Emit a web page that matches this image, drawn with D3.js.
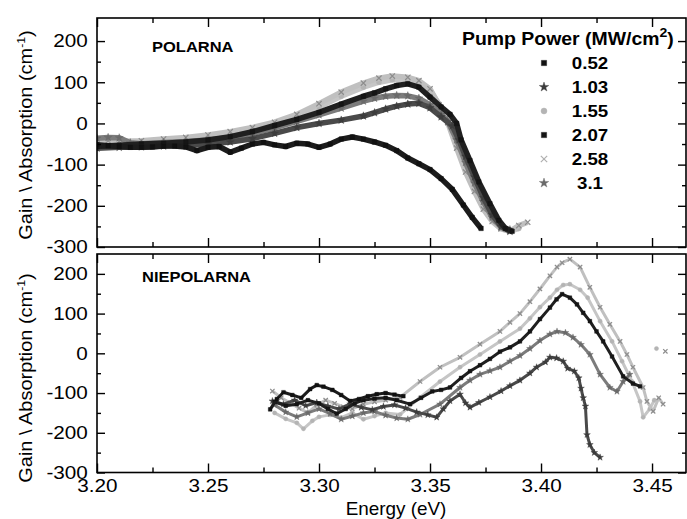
<!DOCTYPE html>
<html>
<head>
<meta charset="utf-8">
<script src="https://cdn.jsdelivr.net/npm/d3@7"></script>
<style>
  body { margin: 0; background: #fff; }
  text { font-family: "Liberation Sans", Arial, sans-serif; fill: #000; }
</style>
</head>
<body>
<svg id="chart" width="687" height="519"></svg>
<script>

// legend entries (pump power, MW/cm2)
let powers = ["0.52", "1.03", "1.55", "2.07", "2.58", "3.1"];

let xTicks = [3.20, 3.25, 3.30, 3.35, 3.40, 3.45];
let xMinorTicks = [3.225, 3.275, 3.325, 3.375, 3.425];
let yTicks = [-300, -200, -100, 0, 100, 200];
let yMinorTicks = [-250, -150, -50, 50, 150];

// POLARNA panel, [energy eV, gain cm-1]
let pol052 = [[3.200,-52],[3.205,-54],[3.210,-56],[3.215,-58],[3.220,-58],[3.225,-57],[3.230,-55],[3.235,-55],[3.240,-57],[3.245,-66],[3.250,-58],[3.255,-56],[3.260,-70],[3.265,-60],[3.270,-50],[3.275,-46],[3.280,-52],[3.285,-56],[3.290,-48],[3.295,-50],[3.300,-58],[3.305,-50],[3.310,-38],[3.315,-33],[3.320,-38],[3.325,-45],[3.330,-53],[3.335,-66],[3.340,-84],[3.345,-98],[3.350,-112],[3.355,-134],[3.360,-160],[3.365,-198],[3.369,-228],[3.373,-255]];
let pol103 = [[3.200,-60],[3.210,-58],[3.220,-57],[3.230,-55],[3.240,-53],[3.250,-50],[3.260,-45],[3.270,-37],[3.280,-24],[3.290,-10],[3.300,0],[3.310,8],[3.320,18],[3.325,26],[3.330,35],[3.335,42],[3.340,47],[3.345,49],[3.350,38],[3.355,16],[3.360,-6],[3.363,-40],[3.366,-80],[3.370,-130],[3.374,-180],[3.378,-222],[3.382,-250],[3.386,-262]];
let pol155 = [[3.200,-48],[3.210,-47],[3.220,-45],[3.230,-42],[3.240,-38],[3.250,-32],[3.260,-25],[3.270,-15],[3.280,-3],[3.290,15],[3.300,40],[3.310,66],[3.320,88],[3.327,100],[3.333,106],[3.340,106],[3.345,98],[3.350,80],[3.354,48],[3.358,8],[3.362,-50],[3.366,-108],[3.370,-158],[3.374,-202],[3.378,-234],[3.382,-254],[3.386,-262],[3.390,-255]];
let pol207 = [[3.200,-56],[3.210,-53],[3.220,-50],[3.230,-48],[3.240,-45],[3.250,-40],[3.260,-32],[3.270,-20],[3.280,-5],[3.290,10],[3.300,27],[3.310,47],[3.320,66],[3.325,74],[3.330,84],[3.335,92],[3.340,96],[3.345,88],[3.350,64],[3.355,40],[3.359,22],[3.362,0],[3.364,-40],[3.368,-90],[3.372,-142],[3.377,-195],[3.381,-235],[3.384,-255],[3.387,-262]];
let pol258 = [[3.200,-45],[3.205,-42],[3.210,-44],[3.220,-42],[3.230,-38],[3.240,-34],[3.250,-28],[3.260,-20],[3.270,-10],[3.280,3],[3.290,22],[3.300,48],[3.310,76],[3.320,98],[3.327,110],[3.333,115],[3.340,112],[3.345,104],[3.350,84],[3.354,45],[3.358,2],[3.362,-60],[3.366,-118],[3.370,-165],[3.374,-208],[3.378,-238],[3.382,-256],[3.386,-262],[3.390,-248],[3.394,-240]];
let pol310 = [[3.200,-36],[3.205,-34],[3.210,-35],[3.215,-47],[3.220,-49],[3.230,-46],[3.240,-44],[3.250,-40],[3.260,-34],[3.270,-24],[3.280,-11],[3.290,5],[3.300,21],[3.310,37],[3.320,54],[3.325,61],[3.330,66],[3.335,68],[3.340,67],[3.345,61],[3.350,45],[3.355,22],[3.358,5],[3.362,-40],[3.366,-95],[3.370,-145],[3.374,-190],[3.378,-228],[3.382,-252],[3.386,-258]];

// NIEPOLARNA panel, null = gap in the measured points
let niepol052 = [[3.278,-141],[3.281,-115],[3.284,-98],[3.288,-105],[3.292,-112],[3.296,-90],[3.299,-80],[3.302,-84],[3.306,-92],[3.310,-105],[3.314,-120],[3.318,-115],[3.322,-108],[3.326,-103],[3.330,-100],[3.334,-104],[3.338,-108]];
let niepol103 = [[3.279,-120],[3.284,-128],[3.289,-118],[3.294,-132],[3.299,-124],[3.304,-133],[3.309,-140],[3.314,-128],[3.319,-136],[3.324,-142],[3.329,-134],[3.334,-130],[3.339,-138],[3.344,-148],[3.349,-155],[3.353,-161],[3.356,-140],[3.359,-120],[3.3635,-103],[3.366,-125],[3.368,-136],[3.372,-124],[3.377,-110],[3.382,-95],[3.386,-82],[3.3905,-68],[3.395,-50],[3.398,-35],[3.402,-22],[3.404,-10],[3.407,-12],[3.410,-20],[3.412,-38],[3.415,-45],[3.417,-62],[3.418,-88],[3.419,-112],[3.420,-133],[3.4207,-205],[3.422,-230],[3.424,-250],[3.4266,-262]];
let niepol155 = [[3.280,-150],[3.285,-165],[3.290,-175],[3.293,-190],[3.297,-170],[3.300,-160],[3.305,-155],[3.310,-162],[3.315,-150],[3.320,-166],[3.325,-158],[3.330,-150],[3.3365,-154],[3.3455,-111],[3.3545,-71],[3.3635,-35],[3.3725,-3],[3.3815,30],[3.3905,62],[3.395,88],[3.3995,116],[3.404,140],[3.4072,160],[3.410,172],[3.413,174],[3.4176,160],[3.421,140],[3.4266,81],[3.432,30],[3.4365,-20],[3.441,-71],[3.4446,-121],[3.446,-161],[3.449,-140],[3.451,-118],[3.4515,null],[3.452,12]];
let niepol207 = [[3.280,-122],[3.285,-132],[3.290,-128],[3.295,-118],[3.300,-126],[3.304,-140],[3.308,-152],[3.312,-140],[3.316,-126],[3.320,-118],[3.325,-114],[3.330,-112],[3.335,-118],[3.341,-128],[3.346,-112],[3.351,-96],[3.355,-92],[3.359,-86],[3.364,-62],[3.368,-45],[3.3725,-30],[3.377,-14],[3.3815,4],[3.386,15],[3.3905,30],[3.395,55],[3.3995,86],[3.404,115],[3.407,136],[3.4095,149],[3.413,140],[3.4162,123],[3.419,102],[3.422,81],[3.425,55],[3.428,30],[3.432,-8],[3.437,-58],[3.4414,-76],[3.4446,-83]];
let niepol258 = [[3.279,-95],[3.283,-112],[3.287,-125],[3.291,-138],[3.295,-150],[3.299,-130],[3.303,-118],[3.307,-126],[3.311,-135],[3.315,-140],[3.320,-128],[3.325,-122],[3.330,-118],[3.3365,-111],[3.3455,-71],[3.3545,-35],[3.3635,-10],[3.3725,23],[3.3815,55],[3.386,78],[3.3905,100],[3.395,130],[3.3995,162],[3.404,195],[3.4072,217],[3.4095,228],[3.413,237],[3.4176,217],[3.422,166],[3.4266,116],[3.431,73],[3.4356,30],[3.4387,-3],[3.4414,-35],[3.446,-86],[3.4477,-121],[3.4505,-146],[3.453,-112],[3.455,-128],[3.4555,null],[3.456,5]];
let niepol310 = [[3.280,-130],[3.285,-148],[3.290,-160],[3.295,-150],[3.300,-140],[3.305,-152],[3.310,-166],[3.315,-158],[3.320,-150],[3.325,-146],[3.330,-156],[3.335,-163],[3.340,-166],[3.3455,-154],[3.3545,-128],[3.3635,-86],[3.368,-68],[3.3725,-53],[3.377,-44],[3.3815,-35],[3.386,-20],[3.3905,-6],[3.395,12],[3.3995,32],[3.404,48],[3.4072,55],[3.411,52],[3.4144,40],[3.418,22],[3.422,-3],[3.4266,-53],[3.431,-86],[3.4342,-96],[3.437,-71],[3.440,-53]];

// look of each series, same order as powers
let seriesStyle = [
  { color: "#111", line: "#1c1c1c", symbol: d3.symbolSquare },
  { color: "#3c3c3c", line: "#4a4a4a", symbol: d3.symbolStar },
  { color: "#b4b4b4", line: "#c6c6c6", symbol: d3.symbolCircle },
  { color: "#151515", line: "#202020", symbol: d3.symbolSquare },
  { color: "#8c8c8c", line: "#c0c0c0", symbol: d3.symbolX },
  { color: "#6a6a6a", line: "#7c7c7c", symbol: d3.symbolStar }
];
let drawOrder = [2, 4, 5, 1, 3, 0];

let svg = d3.select("#chart");
let plotLeft = 97, plotRight = 686;

let x = d3.scaleLinear()
  .domain([3.2, 3.4653])
  .range([plotLeft, plotRight]);

let panels = [
  { label: "POLARNA", labelX: 152, labelY: 52, top: 18, bottom: 247, yMax: 256,
    data: [pol052, pol103, pol155, pol207, pol258, pol310],
    lineWidth: 5.5, markSize: 20, showX: false, titleY: 135 },
  { label: "NIEPOLARNA", labelX: 142, labelY: 282, top: 254, bottom: 472.5, yMax: 250,
    data: [niepol052, niepol103, niepol155, niepol207, niepol258, niepol310],
    lineWidth: 3, markSize: 14, showX: true, titleY: 378 }
];

panels.forEach((p, pi) => {

  let y = d3.scaleLinear()
    .domain([-300, p.yMax])
    .range([p.bottom, p.top]);

  svg.append("clipPath")
    .attr("id", "clip" + pi)
    .append("rect")
      .attr("x", plotLeft)
      .attr("y", p.top)
      .attr("width", plotRight - plotLeft)
      .attr("height", p.bottom - p.top);

  let plot = svg.append("g").attr("clip-path", `url(#clip${pi})`);

  let line = d3.line()
    .defined(d => d[1] !== null)
    .x(d => x(d[0]))
    .y(d => y(d[1]));

  // the measured points (dense markers in the original, so a band + markers)
  drawOrder.forEach(si => {
    let pts = p.data[si];
    let st = seriesStyle[si];
    plot.append("path")
      .datum(pts)
      .attr("fill", "none")
      .attr("stroke", st.line)
      .attr("stroke-width", p.lineWidth)
      .attr("stroke-linejoin", "round")
      .attr("d", line);

    plot.selectAll(null)
      .data(pts.filter(d => d[1] !== null))
      .join("path")
      .attr("transform", d => `translate(${x(d[0])},${y(d[1])})`)
      .attr("d", d3.symbol(st.symbol, p.markSize))
      .attr("fill", st.symbol === d3.symbolX ? "none" : st.color)
      .attr("stroke", st.color)
      .attr("stroke-width", st.symbol === d3.symbolX ? 1.2 : 0.4);
  });

  // axes, ticks pointing inward

  let yAxis = svg.append("g")
    .attr("transform", `translate(${plotLeft},0)`)
    .call(d3.axisLeft(y)
      .tickValues(yTicks)
      .tickSize(-8)
      .tickPadding(8)
      .tickFormat(d => String(d)));
  yAxis.selectAll(".tick text")
    .attr("transform", "scale(1.15,1)")
    .style("font-size", "18px");

  svg.append("g")
    .attr("transform", `translate(${plotLeft},0)`)
    .call(d3.axisLeft(y).tickValues(yMinorTicks).tickSize(-4).tickFormat(""));

  svg.append("g")
    .attr("transform", `translate(${plotRight},0)`)
    .call(d3.axisRight(y).tickValues(yTicks).tickSize(-8).tickFormat(""));

  svg.append("g")
    .attr("transform", `translate(${plotRight},0)`)
    .call(d3.axisRight(y).tickValues(yMinorTicks).tickSize(-4).tickFormat(""));

  let xAxis = svg.append("g")
    .attr("transform", `translate(0,${p.bottom})`)
    .call(d3.axisBottom(x)
      .tickValues(xTicks)
      .tickSize(-9)
      .tickPadding(7)
      .tickFormat(p.showX ? d3.format(".2f") : ""));
  xAxis.selectAll(".tick text")
    .attr("transform", "scale(1.15,1)")
    .style("font-size", "18px");

  svg.append("g")
    .attr("transform", `translate(0,${p.bottom})`)
    .call(d3.axisBottom(x).tickValues(xMinorTicks).tickSize(-5).tickFormat(""));

  svg.append("g")
    .attr("transform", `translate(0,${p.top})`)
    .call(d3.axisTop(x).tickValues(xTicks).tickSize(-9).tickFormat(""));

  svg.append("g")
    .attr("transform", `translate(0,${p.top})`)
    .call(d3.axisTop(x).tickValues(xMinorTicks).tickSize(-5).tickFormat(""));

  svg.selectAll(".domain").remove();
  svg.selectAll(".tick line").attr("stroke", "#000").attr("stroke-width", 1.4);

  // frame
  svg.append("rect")
    .attr("x", plotLeft)
    .attr("y", p.top)
    .attr("width", plotRight - plotLeft)
    .attr("height", p.bottom - p.top)
    .attr("fill", "none")
    .attr("stroke", "#000")
    .attr("stroke-width", 1.6);

  // panel name
  svg.append("text")
    .attr("transform", `translate(${p.labelX},${p.labelY}) scale(1.1,1)`)
    .style("font-size", "15px")
    .style("font-weight", "bold")
    .text(p.label);

  // y axis title
  let yTitle = svg.append("text")
    .attr("transform", `translate(32,${p.titleY}) rotate(-90) scale(1.11,1)`)
    .attr("text-anchor", "middle")
    .style("font-size", "18px")
    .text("Gain \\ Absorption (cm");
  yTitle.append("tspan").attr("dy", -7).style("font-size", "11px").text("-1");
  yTitle.append("tspan").attr("dy", 7).text(")");
});

// x axis title
svg.append("text")
  .attr("transform", "translate(396,515) scale(1.05,1)")
  .attr("text-anchor", "middle")
  .style("font-size", "18px")
  .text("Energy (eV)");

// legend
let legendTitle = svg.append("text")
  .attr("transform", "translate(462,45) scale(1.08,1)")
  .style("font-size", "18px")
  .style("font-weight", "bold")
  .text("Pump Power (MW/cm");
legendTitle.append("tspan").attr("dy", -8).style("font-size", "13px").text("2");
legendTitle.append("tspan").attr("dy", 8).text(")");

let legend = svg.selectAll(".legend-row")
  .data(powers)
  .join("g")
  .attr("class", "legend-row")
  .attr("transform", (d, i) => `translate(0,${63 + i * 24})`);

legend.append("path")
  .attr("transform", "translate(544,0)")
  .attr("d", (d, i) => d3.symbol(seriesStyle[i].symbol, 28)())
  .attr("fill", (d, i) => seriesStyle[i].symbol === d3.symbolX ? "none" : seriesStyle[i].color)
  .attr("stroke", (d, i) => seriesStyle[i].symbol === d3.symbolX ? "#b0b0b0" : seriesStyle[i].color)
  .attr("stroke-width", (d, i) => seriesStyle[i].symbol === d3.symbolX ? 1.2 : 0.4);

legend.append("text")
  .attr("transform", "translate(590,6) scale(1.1,1)")
  .attr("text-anchor", "middle")
  .style("font-size", "17px")
  .style("font-weight", "bold")
  .text(d => d);

</script>
</body>
</html>
